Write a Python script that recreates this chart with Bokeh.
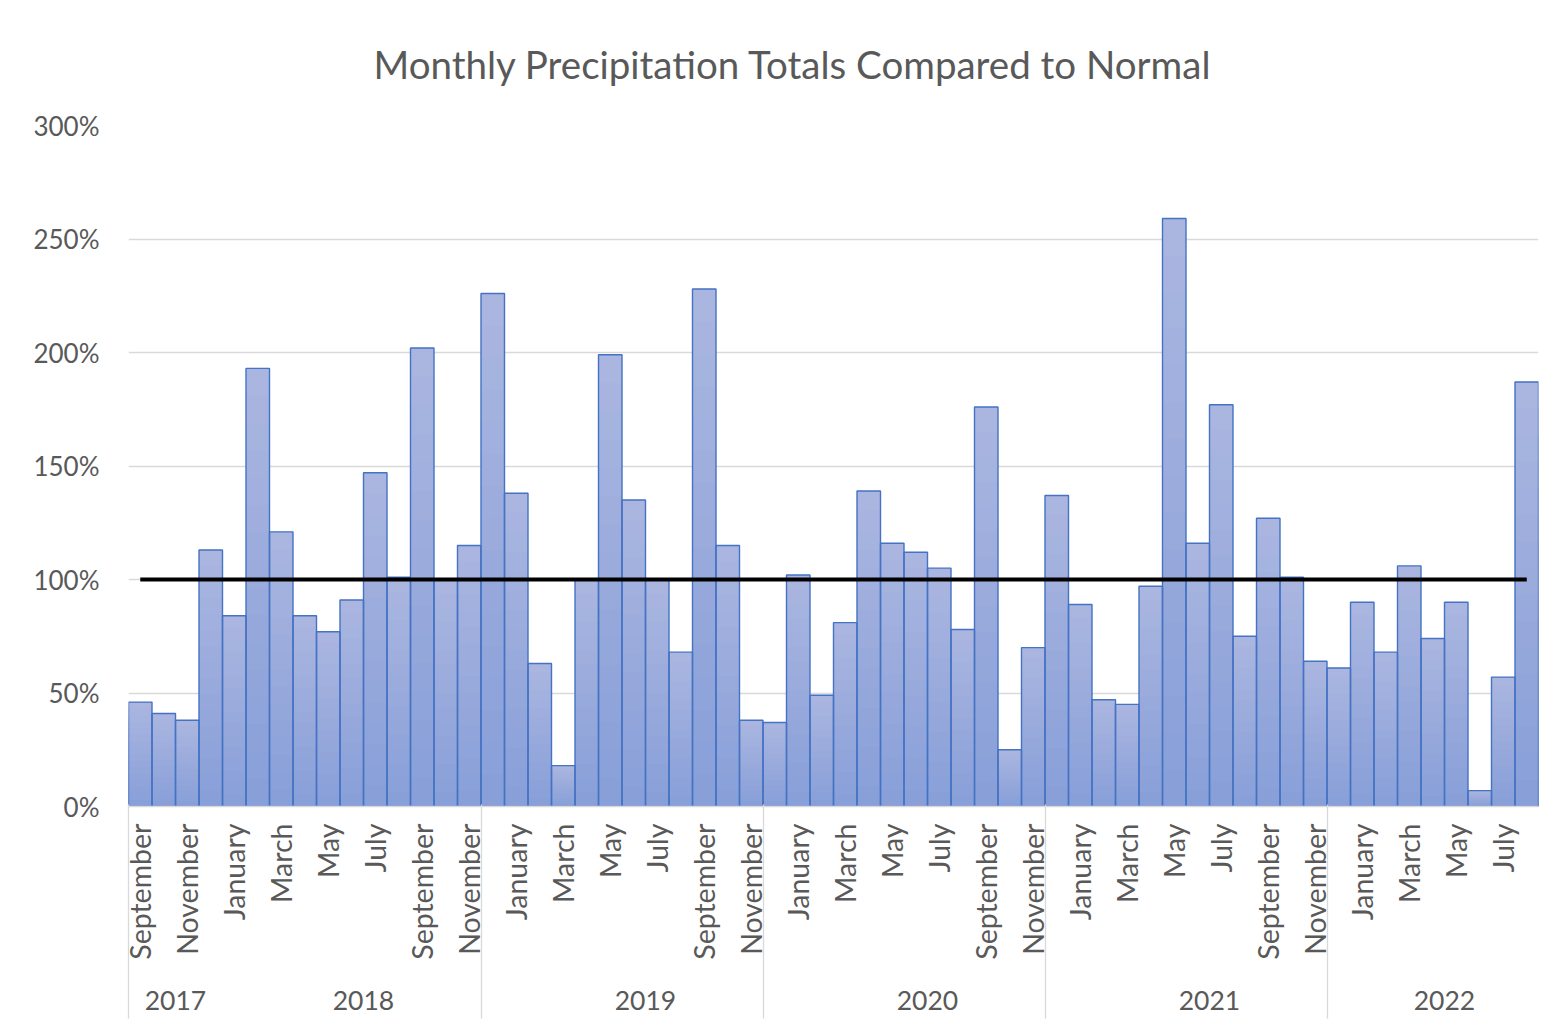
import numpy as np
from bokeh.plotting import figure
from bokeh.models import (Range1d, FixedTicker, LinearAxis, PrintfTickFormatter,
                          ColumnDataSource)
from bokeh.embed import file_html
from bokeh.resources import INLINE

# ---------------- data ----------------
MONTHS = [
    "September", "October", "November", "December",
    "January", "February", "March", "April", "May", "June", "July", "August",
    "September", "October", "November", "December",
    "January", "February", "March", "April", "May", "June", "July", "August",
    "September", "October", "November", "December",
    "January", "February", "March", "April", "May", "June", "July", "August",
    "September", "October", "November", "December",
    "January", "February", "March", "April", "May", "June", "July", "August",
    "September", "October", "November", "December",
    "January", "February", "March", "April", "May", "June", "July", "August",
]
YEAR_LABELS = ["2017", "2018", "2019", "2020", "2021", "2022"]
MONTHS_IN_YEAR = [4, 12, 12, 12, 12, 8]

PCT_OF_NORMAL = [
    46, 41, 38, 113,
    84, 193, 121, 84, 77, 91, 147, 101, 202, 100, 115, 226,
    138, 63, 18, 100, 199, 135, 100, 68, 228, 115, 38, 37,
    102, 49, 81, 139, 116, 112, 105, 78, 176, 25, 70, 137,
    89, 47, 45, 97, 259, 116, 177, 75, 127, 101, 64, 61,
    90, 68, 106, 74, 90, 7, 57, 187,
]
NORMAL = 100
Y_TICKS = [0, 50, 100, 150, 200, 250, 300]

TITLE = "Monthly Precipitation Totals Compared to Normal"

# ---------------- styling ----------------
FONT = "Lato"
TXT = "#595959"
GRID = "#D9D9D9"
BAR_TOP_RGB = (170, 182, 224)
BAR_BOTTOM_RGB = (136, 159, 216)
BAR_LINE = "#4472C4"
BANDS = 16

n = len(PCT_OF_NORMAL)
xs = np.arange(n) + 0.5
vals = np.array(PCT_OF_NORMAL, dtype=float)

p = figure(width=1560, height=1032, output_backend="svg", toolbar_location=None,
           x_range=Range1d(0, n), y_range=Range1d(0, 300),
           min_border_left=128, min_border_right=22,
           min_border_top=125, min_border_bottom=226)
p.outline_line_color = None
p.background_fill_color = "white"
p.border_fill_color = "white"

# title
p.title.text = TITLE
p.title.text_font = FONT
p.title.text_font_size = "38.5px"
p.title.text_font_style = "normal"
p.title.text_color = TXT
p.title.align = "left"
p.title.offset = 245
p.title.standoff = 77

# grid
p.xgrid.visible = False
p.ygrid.ticker = FixedTicker(ticks=Y_TICKS)
p.ygrid.grid_line_color = GRID
p.ygrid.grid_line_width = 1.3

# bars: vertical gradient fill (light top -> darker bottom), drawn as nested
# fractions of each bar's own value, then the outline on top
for k in range(BANDS):
    frac = 1.0 - k / BANDS
    t = k / (BANDS - 1)
    rgb = tuple(int(round(a + (b - a) * t)) for a, b in zip(BAR_TOP_RGB, BAR_BOTTOM_RGB))
    col = "#%02x%02x%02x" % rgb
    p.vbar(x=xs, top=vals * frac, bottom=0, width=1,
           fill_color=col, line_color=None)
src = ColumnDataSource(dict(x=xs, top=PCT_OF_NORMAL, month=MONTHS))
p.vbar(x="x", top="top", bottom=0, width=1, source=src,
       fill_color=None, line_color=BAR_LINE, line_width=1.4)

# normal line
p.line(x=[xs[0], xs[-1]], y=[NORMAL, NORMAL], line_color="black", line_width=4)

# y axis
ya = p.yaxis[0]
ya.ticker = FixedTicker(ticks=Y_TICKS)
ya.formatter = PrintfTickFormatter(format="%d%%")
ya.axis_line_color = None
ya.major_tick_line_color = None
ya.minor_tick_line_color = None
ya.major_label_standoff = 23
ya.major_label_text_font = FONT
ya.major_label_text_font_size = "26px"
ya.major_label_text_color = TXT

# month axis (every other month labelled)
month_ticks = [float(x) for x in xs[::2]]
xa = p.xaxis[0]
xa.ticker = FixedTicker(ticks=month_ticks)
xa.major_label_overrides = {t: MONTHS[int(t)] for t in month_ticks}
xa.major_label_orientation = np.pi / 2
xa.axis_line_color = GRID
xa.axis_line_width = 1.3
xa.major_tick_line_color = None
xa.minor_tick_line_color = None
xa.major_label_standoff = 11
xa.major_label_text_font = FONT
xa.major_label_text_font_size = "28.5px"
xa.major_label_text_color = TXT

# year axis
starts = np.cumsum([0] + MONTHS_IN_YEAR[:-1])
centers = [int(s + m / 2) if (s + m / 2) == int(s + m / 2) else float(s + m / 2)
           for s, m in zip(starts, MONTHS_IN_YEAR)]
yr = LinearAxis(ticker=FixedTicker(ticks=centers))
yr.major_label_overrides = {c: lab for c, lab in zip(centers, YEAR_LABELS)}
yr.axis_line_color = None
yr.major_tick_line_color = None
yr.minor_tick_line_color = None
yr.major_label_standoff = 22
yr.major_label_text_font = FONT
yr.major_label_text_font_size = "26.5px"
yr.major_label_text_color = TXT
p.add_layout(yr, "below")

# outermost axis: group separators drawn as ticks
separators = [0] + [int(s) - 1 for s in starts[2:]]
sep = LinearAxis(ticker=FixedTicker(ticks=separators))
sep.major_label_overrides = {s: "" for s in separators}
sep.major_label_text_font_size = "0px"
sep.major_label_standoff = 0
sep.axis_line_color = None
sep.minor_tick_line_color = None
sep.major_tick_line_color = GRID
sep.major_tick_line_width = 1.3
sep.major_tick_out = 6
sep.major_tick_in = 208
p.add_layout(sep, "below")

open("out.html", "w").write(file_html(p, INLINE))
